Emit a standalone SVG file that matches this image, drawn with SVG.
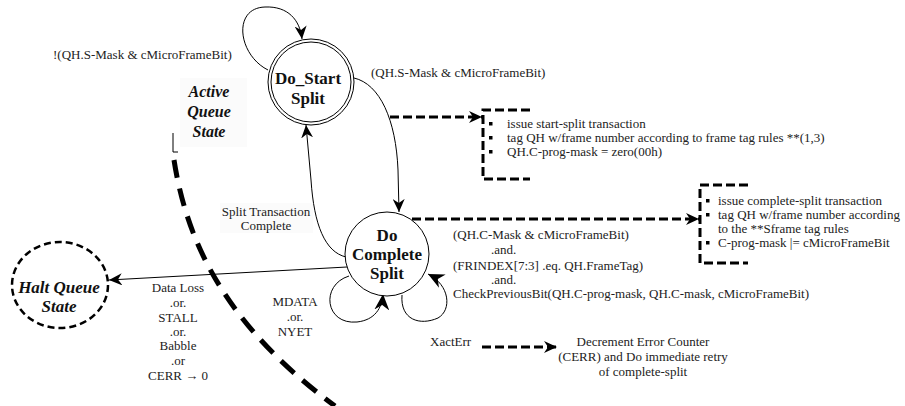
<svg xmlns="http://www.w3.org/2000/svg" width="905" height="406" viewBox="0 0 905 406">
<style>
text{font-family:"Liberation Serif","Times New Roman",serif;fill:#222}
.lbl{font-size:13px}
.node{font-size:17px;font-weight:bold;fill:#111}
.bi{font-size:16px;font-weight:bold;font-style:italic;fill:#111}
.bi17{font-size:17px}
.c{text-anchor:middle}
.thin{fill:none;stroke:#000;stroke-width:1}
.dash{fill:none;stroke:#000;stroke-width:3;stroke-dasharray:9,4}
.bound{fill:none;stroke:#000;stroke-width:5;stroke-dasharray:18,11}
</style>
<defs>
<marker id="ah" markerWidth="14" markerHeight="12" refX="13" refY="6" orient="auto" markerUnits="userSpaceOnUse">
<path d="M0,0 L13,6 L0,12 L4,6 z" fill="#000"/>
</marker>
<marker id="ahl" markerWidth="17" markerHeight="15" refX="16" refY="7.5" orient="auto" markerUnits="userSpaceOnUse">
<path d="M0,0 L16,7.5 L0,15 L5,7.5 z" fill="#000"/>
</marker>
<marker id="ahd" markerWidth="14" markerHeight="12" refX="13" refY="6" orient="auto" markerUnits="userSpaceOnUse">
<path d="M0,0 L13,6 L0,12 L4,6 z" fill="#000"/>
</marker>
</defs>
<rect width="905" height="406" fill="#fff"/>
<g id="active-boundary">
<rect x="180" y="78" width="67" height="69" fill="#fbfbfb"/>
<path class="thin" d="M173,133 L173,152 L178,152" stroke-width="1.5"/>
<path class="bound" d="M174,160 C 188,250 232,330 335,406"/>
<text class="bi c" x="209" y="97">Active</text>
<text class="bi c" x="209" y="117">Queue</text>
<text class="bi c" x="209" y="137">State</text>
</g>
<g id="connectors">
<path class="thin" d="M268,70 C 238,55 232,8 265,7 C 288,6 300,20 302,39" marker-end="url(#ah)"/>
<path class="thin" d="M354,78 C 380,84 396,120 398,170 L399,212" marker-end="url(#ah)"/>
<path class="thin" d="M346,257 C 325,252 314,225 311,180 L306,125" marker-end="url(#ah)"/>
<path class="thin" d="M347,267 L109,280" marker-end="url(#ah)"/>
<path class="thin" d="M349,276 C 320,285 325,325 357,322 C 375,320 382,308 383,294" marker-end="url(#ahl)"/>
<path class="thin" d="M402,295 C 400,320 420,326 438,318 C 452,310 450,285 428,274" marker-end="url(#ahl)"/>
<path class="dash" d="M390,117 L482,117" marker-end="url(#ahd)"/>
<path class="dash" d="M412,219 L699,219" marker-end="url(#ahd)"/>
<path class="dash" d="M482,347 L557,347" marker-end="url(#ahd)"/>
</g>
<g id="do-start">
<circle cx="311" cy="82" r="43" fill="#fff" stroke="#000" stroke-width="1"/>
<circle cx="311" cy="82" r="40" fill="none" stroke="#000" stroke-width="1"/>
<text class="node c" x="308" y="84">Do_Start</text>
<text class="node c" x="308" y="104">Split</text>
</g>
<g id="do-complete">
<circle cx="387" cy="254" r="42" fill="#fff" stroke="#000" stroke-width="1"/>
<text class="node c" x="387" y="241">Do</text>
<text class="node c" x="387" y="260">Complete</text>
<text class="node c" x="387" y="279">Split</text>
</g>
<g id="halt">
<ellipse cx="60" cy="285" rx="48" ry="43" fill="#fff" stroke="#000" stroke-width="2.5" stroke-dasharray="7,4"/>
<text class="bi bi17 c" x="59" y="293">Halt Queue</text>
<text class="bi bi17 c" x="59" y="312">State</text>
</g>
<g id="box-start">
<path class="dash" d="M530,110 L483,110 L483,179 L530,179"/>
<rect x="489" y="122" width="3.5" height="3.5" fill="#000"/>
<rect x="489" y="136" width="3.5" height="3.5" fill="#000"/>
<rect x="489" y="150" width="3.5" height="3.5" fill="#000"/>
<text class="lbl" x="507" y="128">issue start-split transaction</text>
<text class="lbl" x="507" y="142">tag QH w/frame number according to frame tag rules **(1,3)</text>
<text class="lbl" x="507" y="156">QH.C-prog-mask = zero(00h)</text>
</g>
<g id="box-complete">
<path class="dash" d="M748,185 L700,185 L700,263 L748,263"/>
<rect x="706" y="199" width="3.5" height="3.5" fill="#000"/>
<rect x="706" y="213" width="3.5" height="3.5" fill="#000"/>
<rect x="706" y="241" width="3.5" height="3.5" fill="#000"/>
<text class="lbl" x="718" y="205">issue complete-split transaction</text>
<text class="lbl" x="718" y="219">tag QH w/frame number according</text>
<text class="lbl" x="718" y="233">to the **Sframe tag rules</text>
<text class="lbl" x="718" y="247">C-prog-mask |= cMicroFrameBit</text>
</g>
<g id="labels">
<text class="lbl" x="53" y="59">!(QH.S-Mask &amp; cMicroFrameBit)</text>
<text class="lbl" x="371" y="77">(QH.S-Mask &amp; cMicroFrameBit)</text>
<rect x="220" y="203" width="93" height="30" fill="#fbfbfb"/>
<text class="lbl c" x="266" y="216">Split Transaction</text>
<text class="lbl c" x="266" y="230">Complete</text>
<text class="lbl" x="453" y="239">(QH.C-Mask &amp; cMicroFrameBit)</text>
<text class="lbl" x="491" y="254">.and.</text>
<text class="lbl" x="453" y="270">(FRINDEX[7:3] .eq. QH.FrameTag)</text>
<text class="lbl" x="491" y="284">.and.</text>
<text class="lbl" x="453" y="298">CheckPreviousBit(QH.C-prog-mask, QH.C-mask, cMicroFrameBit)</text>
<text class="lbl c" x="295" y="306">MDATA</text>
<text class="lbl c" x="295" y="321">.or.</text>
<text class="lbl c" x="295" y="336">NYET</text>
<text class="lbl c" x="178" y="292">Data Loss</text>
<text class="lbl c" x="178" y="307">.or.</text>
<text class="lbl c" x="178" y="322">STALL</text>
<text class="lbl c" x="178" y="336">.or.</text>
<text class="lbl c" x="178" y="350">Babble</text>
<text class="lbl c" x="178" y="365">.or</text>
<text class="lbl c" x="178" y="380">CERR → 0</text>
<text class="lbl" x="430" y="346">XactErr</text>
<text class="lbl c" x="643" y="346">Decrement Error Counter</text>
<text class="lbl c" x="643" y="361">(CERR) and Do immediate retry</text>
<text class="lbl c" x="643" y="376">of complete-split</text>
</g>
</svg>
